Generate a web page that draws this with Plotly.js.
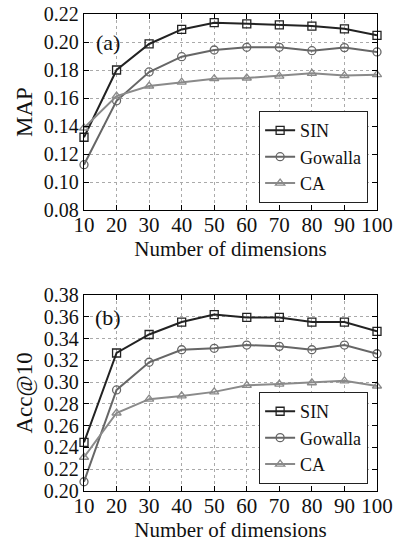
<!DOCTYPE html>
<html><head><meta charset="utf-8">
<script src="https://cdn.plot.ly/plotly-3.0.1.min.js"></script>
<style>body{margin:0;background:#fff}#c{width:394px;height:545px}</style>
</head><body><div id="c"></div>
<script>
const dims = [10,20,30,40,50,60,70,80,90,100];
const mapSIN = [0.132,0.180,0.1986,0.209,0.2138,0.2129,0.2123,0.2114,0.2094,0.2048];
const mapGowalla = [0.1124,0.158,0.1786,0.1895,0.1943,0.1962,0.1962,0.1938,0.196,0.1929];
const mapCA = [0.1386,0.1614,0.1686,0.1714,0.1738,0.1743,0.1757,0.1776,0.176,0.1767];
const accSIN = [0.2447,0.3267,0.3437,0.3551,0.362,0.3594,0.3594,0.3551,0.3551,0.3466];
const accGowalla = [0.2085,0.2928,0.3182,0.3297,0.331,0.334,0.3328,0.3297,0.334,0.326];
const accCA = [0.231,0.2716,0.2843,0.2873,0.291,0.297,0.2982,0.2994,0.3012,0.2964];
const names = ['SIN','Gowalla','CA'];
const colors = ['#222222','#666666','#8a8a8a'];
const symbols = ['square-open','circle-open','triangle-up-open'];
const FONT = 'Liberation Serif, Times New Roman, serif';

function tr(y, i, xa, ya, leg){
  return {x: dims, y: y, name: names[i], type:'scatter', mode:'lines+markers',
    xaxis: xa, yaxis: ya, legend: leg, cliponaxis:false,
    line:{color:colors[i], width:2},
    marker:{symbol:symbols[i], size:8, color:colors[i], line:{width:1.3, color:colors[i]}}};
}
const data = [
  tr(mapSIN,0,'x','y','legend'), tr(mapGowalla,1,'x','y','legend'), tr(mapCA,2,'x','y','legend'),
  tr(accSIN,0,'x2','y2','legend2'), tr(accGowalla,1,'x2','y2','legend2'), tr(accCA,2,'x2','y2','legend2')
];
function xax(anchor){
  return {range:[10,100], tickvals:dims, anchor:anchor, domain:[0,1],
    showline:true, linecolor:'#000', linewidth:1.2, mirror:'ticks', ticks:'inside', ticklen:5, tickcolor:'#000',
    showgrid:true, gridcolor:'#aaa', griddash:'dot', gridwidth:1, zeroline:false,
    tickfont:{family:FONT,size:21,color:'#111'}, ticklabelstandoff:-4,
    title:{text:'Number of dimensions', font:{family:FONT,size:21,color:'#111'}, standoff:0}};
}
function yax(anchor, dom, range, dt, title){
  return {range:range, dtick:dt, tick0:range[0], anchor:anchor, domain:dom, tickformat:'.2f',
    showline:true, linecolor:'#000', linewidth:1.2, mirror:'ticks', ticks:'inside', ticklen:5, tickcolor:'#000',
    showgrid:true, gridcolor:'#aaa', griddash:'dot', gridwidth:1, zeroline:false,
    tickfont:{family:FONT,size:20,color:'#111'},
    title:{text:title, font:{family:FONT,size:23,color:'#111'}, standoff:4}};
}
const legendStyle = {xanchor:'right', yanchor:'bottom', x:0.969, bgcolor:'#fff', bordercolor:'#222', borderwidth:1.2,
  font:{family:FONT,size:18,color:'#111'}, itemwidth:30, tracegroupgap:0};
const layout = {
  width:394, height:545, margin:{l:84,r:17,t:14,b:54},
  paper_bgcolor:'#fff', plot_bgcolor:'#fff', showlegend:true,
  xaxis: xax('y'), yaxis: yax('x',[0.589,1],[0.08,0.22],0.02,'MAP'),
  xaxis2: xax('y2'), yaxis2: yax('x2',[0,0.411],[0.20,0.38],0.02,'Acc@10'),
  legend: Object.assign({}, legendStyle, {y:0.604}),
  legend2: Object.assign({}, legendStyle, {y:0.015}),
  annotations:[
    {text:'(a)', xref:'x', yref:'y', x:17.5, y:0.2, showarrow:false, font:{family:FONT,size:22,color:'#111'}},
    {text:'(b)', xref:'x2', yref:'y2', x:17.5, y:0.3595, showarrow:false, font:{family:FONT,size:22,color:'#111'}}
  ]
};
Plotly.newPlot('c', data, layout, {staticPlot:true, displayModeBar:false});
</script></body></html>
